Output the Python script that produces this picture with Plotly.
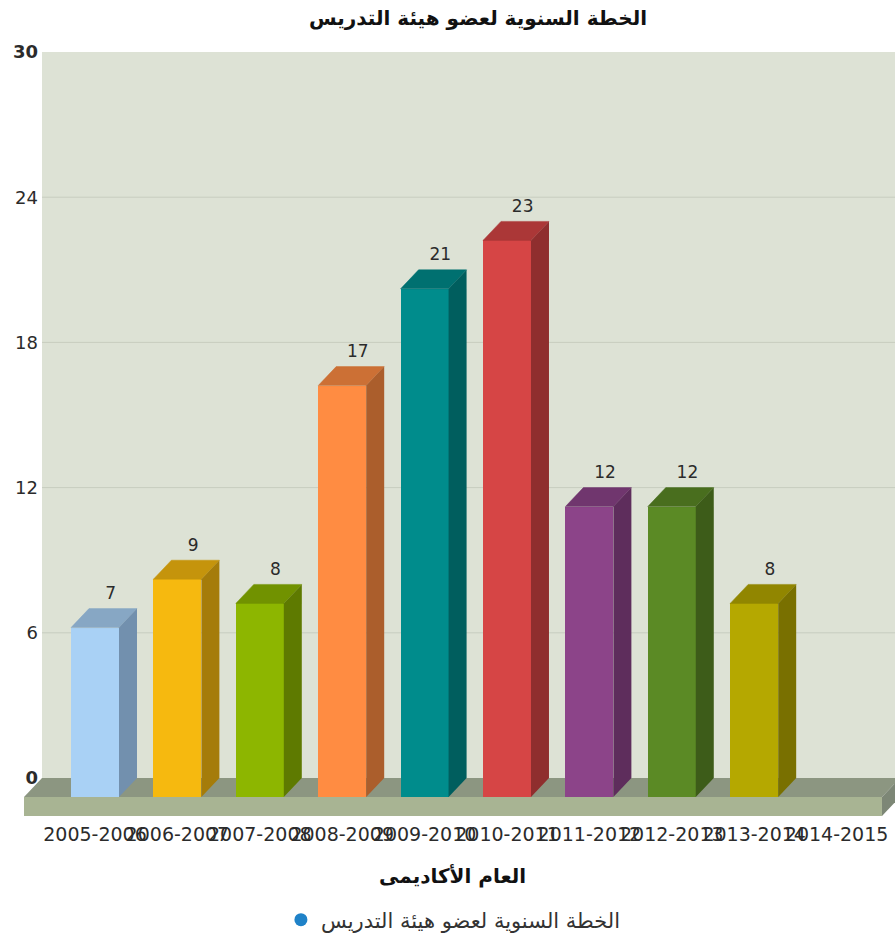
import plotly.graph_objects as go

# ---- data ----
categories = ["2005-2006", "2006-2007", "2007-2008", "2008-2009", "2009-2010",
              "2010-2011", "2011-2012", "2012-2013", "2013-2014", "2014-2015"]
values = [7, 9, 8, 17, 21, 23, 12, 12, 8, None]
front_colors = ["#A9D1F5", "#F6B90F", "#8DB600", "#FF8C42", "#008C8C",
                "#D64545", "#8C4489", "#5B8A25", "#B5A800", "#1F82C8"]
top_colors = ["#87A7C4", "#C5940C", "#719200", "#CC7035", "#007070",
              "#AB3737", "#70366E", "#496E1E", "#918600", "#1F82C8"]
side_colors = ["#7290AE", "#A57C0A", "#5E7A00", "#AB5E2C", "#005E5E",
               "#8F2E2E", "#5E2D5C", "#3D5C19", "#797000", "#1F82C8"]
y_ticks = [0, 6, 12, 18, 24, 30]
y_tick_text = ["<b>0</b>", "6", "12", "18", "24", "<b>30</b>"]
title_text = "الخطة السنوية لعضو هيئة التدريس"
x_title_text = "العام الأكاديمى"
legend_text = "الخطة السنوية لعضو هيئة التدريس"

# ---- pseudo-3D geometry, in axis units ----
BAR_W = 0.5825
DX = 0.2184   # depth in x
DY = 0.785    # depth in y
LABEL_PAD = 0.22
FLOOR_L, FLOOR_R = -0.8617, 9.551
X_RANGE = [FLOOR_L, 9.709]
Y_RANGE = [-2 * DY, 30]
WALL_L = FLOOR_L + DX
WALL_R = FLOOR_R + DX
FONT = "DejaVu Sans"
TEXT = "#2b2b2b"

fig = go.Figure()

def poly(xs, ys, color, layer="below"):
    path = "M " + " L ".join(f"{a},{b}" for a, b in zip(xs, ys)) + " Z"
    fig.add_shape(type="path", path=path, xref="x", yref="y", layer=layer,
                  fillcolor=color, line_width=0)

# back wall, floor
poly([WALL_L, WALL_R, WALL_R, WALL_L], [0, 0, 30, 30], "#DDE2D5")
for t in y_ticks[1:-1]:
    fig.add_shape(type="line", x0=WALL_L, x1=WALL_R, y0=t, y1=t, xref="x", yref="y",
                  layer="below", line=dict(color="#C7CDBF", width=1))
poly([FLOOR_L, FLOOR_R, WALL_R, WALL_L], [-DY, -DY, 0, 0], "#8C9681")
poly([FLOOR_L, FLOOR_R, FLOOR_R, FLOOR_L], [-2 * DY, -2 * DY, -DY, -DY], "#A8B493")
poly([FLOOR_R, WALL_R, WALL_R, FLOOR_R], [-2 * DY, -DY, 0, -DY], "#7D8776")

xs = list(range(len(categories)))
bars = [(i, v) for i, v in zip(xs, values) if v is not None]

# front faces
fig.add_trace(go.Bar(
    x=[i for i, v in bars],
    y=[v for i, v in bars],
    base=-DY,
    width=BAR_W,
    marker=dict(color=[front_colors[i] for i, v in bars], line_width=0),
    showlegend=False, hoverinfo="skip"))

# top and side faces, derived from values
for i, v in bars:
    l, r = i - BAR_W / 2, i + BAR_W / 2
    ytop = v - DY
    fig.add_trace(go.Scatter(
        x=[l, r, r + DX, l + DX, l], y=[ytop, ytop, v, v, ytop],
        mode="lines", fill="toself", fillcolor=top_colors[i],
        line=dict(width=0.5, color=top_colors[i]),
        showlegend=False, hoverinfo="skip"))
    fig.add_trace(go.Scatter(
        x=[r, r + DX, r + DX, r, r], y=[-DY, 0, v, ytop, -DY],
        mode="lines", fill="toself", fillcolor=side_colors[i], line=dict(width=0),
        showlegend=False, hoverinfo="skip"))

# value labels
fig.add_trace(go.Scatter(
    x=[i + 0.19 for i, v in bars],
    y=[v + LABEL_PAD for i, v in bars],
    text=[str(v) for i, v in bars],
    mode="text", textposition="top center",
    textfont=dict(family=FONT, size=17, color=TEXT),
    showlegend=False, hoverinfo="skip"))

# legend entry
fig.add_trace(go.Scatter(
    x=[None], y=[None], mode="markers", name=legend_text,
    marker=dict(symbol="circle", size=13, color="#1F82C8"),
    showlegend=True))

fig.update_layout(
    width=895, height=938, autosize=False,
    margin=dict(l=24, r=0, t=52, b=122, autoexpand=False),
    paper_bgcolor="white", plot_bgcolor="white",
    font=dict(family=FONT, color=TEXT),
    title=dict(text=f"<b>{title_text}</b>", x=478 / 895, xanchor="center",
               y=1 - 18 / 938, yanchor="middle", font=dict(family=FONT, size=20, color="#111111")),
    xaxis=dict(range=X_RANGE, tickmode="array", tickvals=xs, ticktext=categories,
               tickangle=0, showgrid=False, zeroline=False, showline=False, ticks="",
               ticklabelstandoff=5,
               tickfont=dict(family=FONT, size=19, color=TEXT)),
    yaxis=dict(range=Y_RANGE, tickmode="array", tickvals=y_ticks, ticktext=y_tick_text,
               anchor="free", position=14 / 871, showgrid=False, zeroline=False,
               showline=False, ticks="", tickfont=dict(family=FONT, size=18, color=TEXT)),
    legend=dict(orientation="h", x=264 / 895, xanchor="left", y=1 - (920 - 52) / 764,
                yanchor="middle", font=dict(family=FONT, size=21, color="#333333"),
                bgcolor="rgba(0,0,0,0)"),
    annotations=[dict(text=f"<b>{x_title_text}</b>", xref="paper", yref="paper",
                      x=(452 - 24) / 871, y=1 - (876 - 52) / 764, xanchor="center", yanchor="middle",
                      showarrow=False, font=dict(family=FONT, size=20, color="#111111"))],
    bargap=0,
)

fig.write_html("out.html", config={"displayModeBar": False},
               post_script="document.body.style.margin='0';")
